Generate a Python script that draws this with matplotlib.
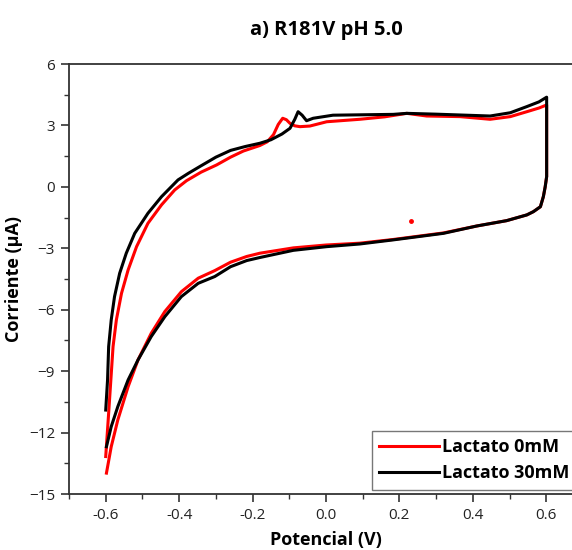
import numpy as np
import matplotlib.pyplot as plt

plt.rcParams['font.family'] = ['Open Sans', 'DejaVu Sans']

# Lactato 0mM (rojo): barrido completo
x_0mM = [-0.600, -0.592, -0.586, -0.580, -0.571, -0.557, -0.539, -0.516, -0.485, -0.448,
         -0.412, -0.380, -0.340, -0.298, -0.260, -0.225, -0.180, -0.160, -0.143, -0.130,
         -0.118, -0.108, -0.098, -0.085, -0.071, -0.044, 0.002, 0.092, 0.160, 0.220,
         0.274, 0.365, 0.447, 0.502, 0.547, 0.580, 0.601,
         0.601, 0.601, 0.597, 0.592, 0.584, 0.565, 0.547, 0.492, 0.411, 0.320,
         0.183, 0.092, 0.000, -0.089, -0.180, -0.216, -0.260, -0.303, -0.348, -0.394,
         -0.439, -0.476, -0.512, -0.539, -0.567, -0.585, -0.598]
y_0mM = [-13.17, -11.05, -9.43, -7.80, -6.50, -5.20, -4.06, -2.92, -1.78, -0.88,
         -0.15, 0.30, 0.72, 1.07, 1.45, 1.75, 2.02, 2.20, 2.55, 3.05,
         3.35, 3.28, 3.10, 2.98, 2.94, 2.97, 3.18, 3.30, 3.42, 3.59,
         3.46, 3.43, 3.30, 3.43, 3.67, 3.85, 4.00,
         2.00, 0.50, 0.00, -0.48, -0.97, -1.21, -1.37, -1.65, -1.91, -2.25,
         -2.57, -2.75, -2.84, -2.98, -3.24, -3.40, -3.68, -4.09, -4.46, -5.12,
         -6.09, -7.15, -8.45, -9.76, -11.38, -12.69, -13.98]

# Lactato 30mM (negro)
x_30mM = [-0.600, -0.595, -0.592, -0.585, -0.576, -0.562, -0.544, -0.521, -0.485, -0.448,
          -0.403, -0.375, -0.343, -0.300, -0.260, -0.220, -0.180, -0.150, -0.120, -0.098,
          -0.085, -0.076, -0.065, -0.053, -0.035, 0.019, 0.100, 0.183, 0.220, 0.300,
          0.365, 0.447, 0.502, 0.547, 0.580, 0.601,
          0.601, 0.601, 0.597, 0.592, 0.584, 0.565, 0.547, 0.492, 0.411, 0.320,
          0.183, 0.092, 0.002, -0.089, -0.180, -0.216, -0.260, -0.303, -0.348, -0.394,
          -0.439, -0.476, -0.512, -0.539, -0.567, -0.585, -0.598]
y_30mM = [-10.90, -9.43, -7.80, -6.50, -5.36, -4.22, -3.24, -2.27, -1.29, -0.48,
          0.34, 0.66, 1.00, 1.45, 1.78, 1.97, 2.13, 2.30, 2.58, 2.86,
          3.30, 3.67, 3.50, 3.23, 3.35, 3.50, 3.52, 3.54, 3.59, 3.55,
          3.51, 3.46, 3.62, 3.92, 4.15, 4.38,
          2.00, 0.50, 0.00, -0.48, -0.97, -1.21, -1.37, -1.65, -1.91, -2.27,
          -2.59, -2.79, -2.92, -3.10, -3.45, -3.60, -3.90, -4.38, -4.71, -5.36,
          -6.34, -7.31, -8.45, -9.43, -10.73, -11.71, -12.69]

# punto suelto
x_dot = [0.232]
y_dot = [-1.65]

labels = ['Lactato 0mM', 'Lactato 30mM']

fig = plt.figure(figsize=(5.72, 5.5), dpi=100)
ax = fig.add_axes([69 / 572, 1 - 494 / 550, (583 - 69) / 572, (494 - 64) / 550])

ax.plot(x_0mM, y_0mM, color='#ff0000', lw=2.2, label=labels[0], solid_joinstyle='round')
ax.plot(x_dot, y_dot, 'o', color='#ff0000', ms=2.5)
ax.plot(x_30mM, y_30mM, color='black', lw=2.2, label=labels[1], solid_joinstyle='round')

ax.set_xlim(-0.7, 0.7)
ax.set_ylim(-15, 6)
ax.set_xticks(np.arange(-0.6, 0.61, 0.2))
ax.set_xticks(np.arange(-0.7, 0.71, 0.1), minor=True)
ax.set_xticklabels(['-0.6', '-0.4', '-0.2', '0.0', '0.2', '0.4', '0.6'])
ax.set_yticks(np.arange(-15, 6.1, 3))
ax.set_yticks(np.arange(-15, 6.1, 1.5), minor=True)

for s in ax.spines.values():
    s.set_color('#333333')
    s.set_linewidth(1.3)
ax.tick_params(which='major', direction='out', length=6, width=1.2, color='#333333',
               labelsize=11, labelcolor='#222222', pad=4)
ax.tick_params(which='minor', direction='out', length=3.5, width=1.0, color='#333333')

ax.set_title('a) R181V pH 5.0', fontsize=14.5, fontweight='bold', pad=21)
ax.set_xlabel('Potencial (V)', fontsize=13, fontweight='bold', labelpad=6)
ax.set_ylabel('Corriente (\u03bcA)', fontsize=13, fontweight='bold', labelpad=4)

leg = ax.legend(loc='upper left', bbox_to_anchor=(372 / 572, 1 - 431 / 550),
                bbox_transform=fig.transFigure, frameon=True, fancybox=False,
                prop={'weight': 'bold', 'size': 13}, handlelength=3.3,
                handletextpad=0.2, borderpad=0.4, labelspacing=0.45, borderaxespad=0)
leg.get_frame().set_edgecolor('#555555')
leg.get_frame().set_linewidth(1.0)

fig.savefig('out.png', dpi=100)
